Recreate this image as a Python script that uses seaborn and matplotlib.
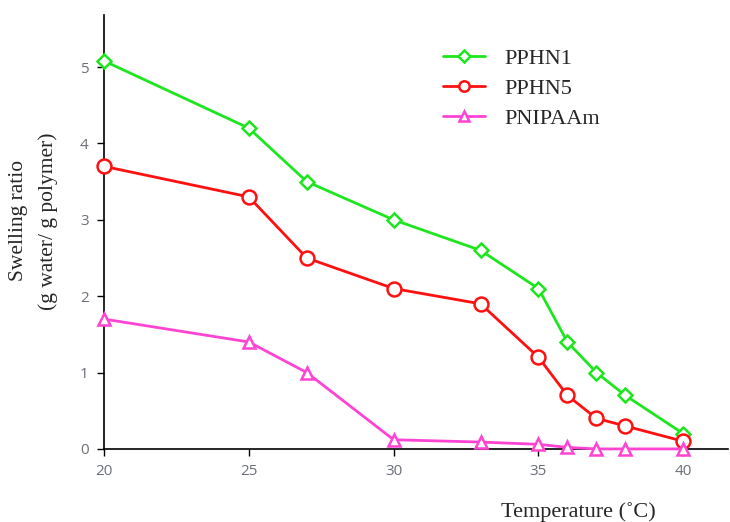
import matplotlib
matplotlib.use("Agg")
import matplotlib.pyplot as plt
import seaborn as sns

temps = [20, 25, 27, 30, 33, 35, 36, 37, 38, 40]
pphn1 = [5.08, 4.2, 3.5, 3.0, 2.6, 2.1, 1.4, 1.0, 0.7, 0.2]
pphn5 = [3.7, 3.3, 2.5, 2.1, 1.9, 1.2, 0.7, 0.4, 0.3, 0.1]
pnipaam = [1.7, 1.4, 1.0, 0.12, 0.09, 0.06, 0.02, 0.0, 0.0, 0.0]
series_names = ["PPHN1", "PPHN5", "PNIPAAm"]
x_ticks = [20, 25, 30, 35, 40]
y_ticks = [0, 1, 2, 3, 4, 5]

sns.set_style("white")
plt.rcParams['font.family'] = ['Liberation Serif', 'DejaVu Serif']

fig = plt.figure(figsize=(7.3, 5.22), dpi=100)
ax = fig.add_axes([0.1425, 0.14, 0.855, 0.831])

styles = [
    dict(color="#1ee61e", marker="D", markersize=7.5),
    dict(color="#ff1010", marker="o", markersize=10),
    dict(color="#ff44d4", marker="^", markersize=9),
]
for name, vals, st in zip(series_names, [pphn1, pphn5, pnipaam], styles):
    sns.lineplot(x=temps, y=vals, ax=ax, color=st["color"], linewidth=2,
                 marker=st["marker"], markersize=st["markersize"],
                 markerfacecolor="white", markeredgecolor=st["color"],
                 markeredgewidth=1.8, label=name, clip_on=False, zorder=3)

ax.set_xlim(20, 41.55)
ax.set_ylim(0, 5.68)
ax.set_xticks(x_ticks)
ax.set_yticks(y_ticks)
for s in ["top", "right"]:
    ax.spines[s].set_visible(False)
for s in ["left", "bottom"]:
    ax.spines[s].set_color("black")
    ax.spines[s].set_linewidth(1.2)
    ax.spines[s].set_zorder(2)
ax.tick_params(axis="both", which="major", direction="out", length=5, width=1,
               color="black", labelsize=11, labelcolor="#6b6f78", pad=6,
               bottom=True, left=True)
for lab in ax.get_xticklabels() + ax.get_yticklabels():
    lab.set_family(['Open Sans', 'DejaVu Sans'])
ax.set_xlabel("")
ax.set_ylabel("")

fig.text(0.026, 0.577, "Swelling ratio", rotation=90, ha="center", va="center", fontsize=15.5)
fig.text(0.066, 0.577, "(g water/ g polymer)", rotation=90, ha="center", va="center", fontsize=15.5)
fig.text(0.792, 0.02, "Temperature (˚C)", ha="center", va="center", fontsize=16)

leg = ax.legend(loc="upper left", bbox_to_anchor=(0.58, 0.945), bbox_transform=fig.transFigure,
                frameon=False, fontsize=16, handlelength=1.85, labelspacing=0.42, handletextpad=0.9,
                markerscale=0.75)

fig.savefig("out.png", dpi=100)
